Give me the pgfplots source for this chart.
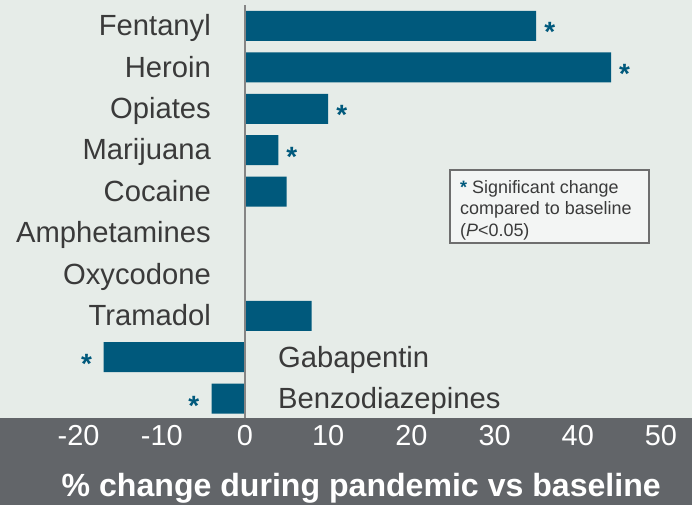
\documentclass[border=0pt]{standalone}
\usepackage{fontspec}
\setmainfont{Liberation Sans}
\usepackage{pgfplots}
\pgfplotsset{compat=1.18}
\definecolor{bgcol}{HTML}{E6ECE8}
\definecolor{bandcol}{HTML}{626569}
\definecolor{barcol}{HTML}{00597C}
\definecolor{labcol}{HTML}{3A3A3A}
\definecolor{boxfill}{HTML}{F3F5F4}
\definecolor{boxline}{HTML}{6E6E6E}
\definecolor{axcol}{HTML}{858585}
\newcommand\fs[1]{\fontsize{#1}{#1}\selectfont}
\tikzset{
  catl/.style={anchor=base east, inner sep=0, text=labcol, font=\fs{29.3}, xshift=-34bp, yshift=-9.7bp},
  catr/.style={anchor=base west, inner sep=0, text=labcol, font=\fs{29.3}, xshift=33bp, yshift=-10.2bp},
  star/.style={anchor=base, inner sep=0, text=barcol, font=\fs{28}\bfseries, yshift=-16bp},
  note/.style={anchor=base west, inner sep=0, text=labcol, font=\fs{18}},
}
\begin{document}
\begin{tikzpicture}
\fill[bandcol] (0,-87bp) rectangle (692bp,0);
\begin{axis}[
  at={(0,0)}, anchor=south west,
  width=692bp, height=418bp, scale only axis,
  xmin=-29.45, xmax=53.73, ymin=-0.628, ymax=9.469,
  y dir=reverse,
  axis background/.style={fill=bgcol},
  axis line style={draw=none},
  major tick length=0,
  ytick=\empty,
  xtick={-20,-10,0,10,20,30,40,50},
  xticklabels={-20,-10,0,10,20,30,40,50},
  xticklabel style={text=white, font=\fs{29}, anchor=center, yshift=-18bp},
  xlabel={\% change during pandemic vs baseline},
  xlabel style={at={(rel axis cs:0.522,0)}, anchor=center, yshift=-70.5bp, text=white, font=\fs{32.2}\bfseries},
  clip=false,
]
\addplot[xbar, bar width=30bp, fill=barcol, draw=none, bar shift=0pt] coordinates {
 (35,0) (44,1) (10,2) (4,3) (5,4) (0,5) (0,6) (8,7) (-17,8) (-4,9)};
\draw[axcol, line width=2.5bp] (axis cs:0,-0.507) -- (axis cs:0,9.469);
% category labels
\node[catl] at (axis cs:0,0) {Fentanyl};
\node[catl] at (axis cs:0,1) {Heroin};
\node[catl] at (axis cs:0,2) {Opiates};
\node[catl] at (axis cs:0,3) {Marijuana};
\node[catl] at (axis cs:0,4) {Cocaine};
\node[catl] at (axis cs:0,5) {Amphetamines};
\node[catl] at (axis cs:0,6) {Oxycodone};
\node[catl] at (axis cs:0,7) {Tramadol};
\node[catr] at (axis cs:0,8) {Gabapentin};
\node[catr] at (axis cs:0,9) {Benzodiazepines};
% significance stars
\node[star, xshift=13.5bp] at (axis cs:35,0) {*};
\node[star, xshift=13.5bp] at (axis cs:44,1) {*};
\node[star, xshift=13.5bp] at (axis cs:10,2) {*};
\node[star, xshift=13.5bp] at (axis cs:4,3) {*};
\node[star, xshift=-17bp] at (axis cs:-17,8) {*};
\node[star, xshift=-18bp, yshift=-1bp] at (axis cs:-4,9) {*};
% note box
\draw[boxline, fill=boxfill, line width=1.8bp] (axis cs:24.64,3.478) rectangle (axis cs:48.56,5.242);
\node[note] at (axis cs:25.84,4.041) {\textcolor{barcol}{\bfseries*} Significant change};
\node[note] at (axis cs:25.84,4.565) {compared to baseline};
\node[note] at (axis cs:25.84,5.089) {(\textit{P}<0.05)};
\end{axis}
\pgfresetboundingbox
\useasboundingbox (0,-87bp) rectangle (692bp,418bp);
\end{tikzpicture}
\end{document}
